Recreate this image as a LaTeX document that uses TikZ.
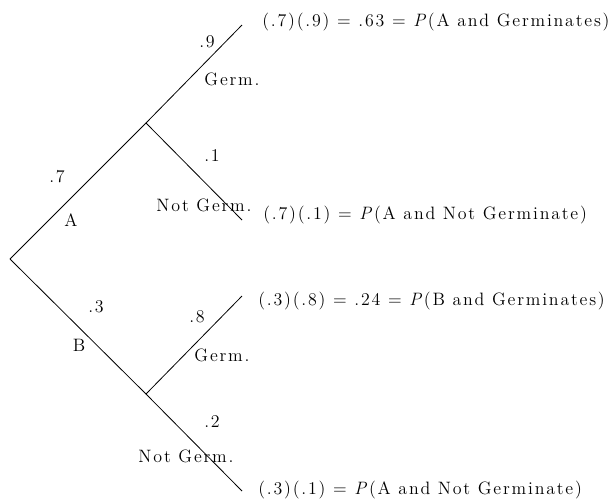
\documentclass[tikz,border=0pt]{standalone}
\usepackage{fontspec}
\setmainfont{Latin Modern Roman}[LetterSpace=10]
\usepackage{tikz}
\usetikzlibrary{positioning}

\begin{document}
\begin{tikzpicture}[
    x=0.625pt, y=-0.625pt,
    font=\fontsize{11.2}{13}\selectfont,
    branch/.style={draw, line width=0.5pt},
    prob/.style={inner sep=0pt},
    outcome/.style={anchor=west, inner sep=0pt}
]
\useasboundingbox (0,0) rectangle (608,498);

% tree points
\coordinate (root) at (10,259);
\coordinate (a) at (146,123);
\coordinate (b) at (146,394);
\coordinate (ag) at (242,25);
\coordinate (an) at (242,220);
\coordinate (bg) at (242,296);
\coordinate (bn) at (242,491);

% branches
\path [branch] (root) -- (a);
\path [branch] (root) -- (b);
\path [branch] (a) -- (ag);
\path [branch] (a) -- (an);
\path [branch] (b) -- (bg);
\path [branch] (b) -- (bn);

% first stage
\node [prob] (pa) at (57,177) {.7};
\node [prob] (la) at (71,220) {A};
\node [prob] (pb) at (96,307) {.3};
\node [prob] (lb) at (79,345) {B};

% second stage
\node [prob] (pag) at (207,42) {.9};
\node [prob] (lag) at (232,79) {Germ.};
\node [prob] (pan) at (212,156) {.1};
\node [prob] (lan) at (204,205) {Not Germ.};
\node [prob] (pbg) at (197,317) {.8};
\node [prob] (lbg) at (222,355) {Germ.};
\node [prob] (pbn) at (212,422) {.2};
\node [prob] (lbn) at (186,456) {Not Germ.};

% outcomes
\node [outcome] (oag) at (262,22) {(.7)(.9) = .63 = \textit{P}(A and Germinates)};
\node [outcome] (oan) at (263,215) {(.7)(.1) = \textit{P}(A and Not Germinate)};
\node [outcome] (obg) at (258,301) {(.3)(.8) = .24 = \textit{P}(B and Germinates)};
\node [outcome] (obn) at (258,490) {(.3)(.1) = \textit{P}(A and Not Germinate)};

\end{tikzpicture}
\end{document}
